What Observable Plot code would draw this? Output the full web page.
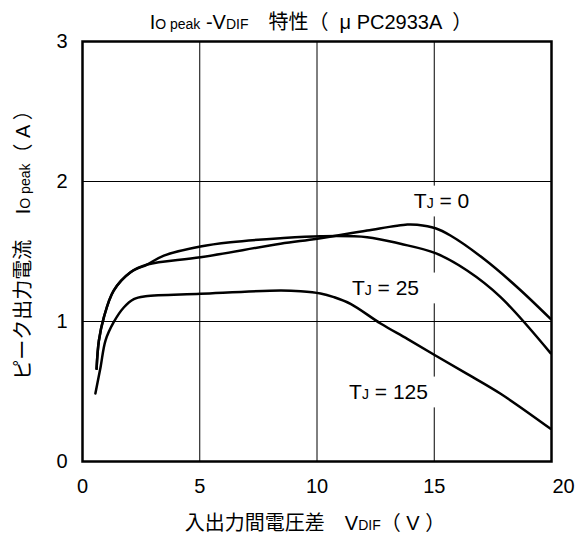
<!DOCTYPE html>
<html><head><meta charset="utf-8">
<script src="https://cdn.jsdelivr.net/npm/d3@7"></script>
<script src="https://cdn.jsdelivr.net/npm/@observablehq/plot@0.6"></script>
<style>body{margin:0;background:#fff}</style>
</head><body><div id="chart"></div>
<script>
// T_J = 0 curve
const t0X = [0.60, 0.70, 0.91, 1.33, 2.05, 2.76, 5.03, 8.44, 10.01, 12.14, 13.85, 14.27, 15.05, 15.69, 17.11, 18.54, 19.96];
const t0Y = [0.662, 0.864, 1.03, 1.221, 1.352, 1.407, 1.459, 1.555, 1.591, 1.65, 1.693, 1.691, 1.666, 1.614, 1.448, 1.245, 1.019];
// T_J = 25 curve
const t25X = [0.60, 0.70, 0.91, 1.33, 2.05, 2.76, 3.47, 5.03, 6.31, 8.44, 10.15, 12.14, 13.56, 15.05, 16.4, 17.83, 19.96];
const t25Y = [0.662, 0.864, 1.03, 1.221, 1.352, 1.407, 1.471, 1.536, 1.566, 1.595, 1.609, 1.602, 1.555, 1.488, 1.364, 1.174, 0.774];
// T_J = 125 curve
const t125X = [0.55, 0.77, 0.98, 1.33, 1.76, 2.19, 2.69, 5.03, 8.44, 9.30, 10.15, 10.72, 11.43, 12.71, 13.85, 15.05, 16.4, 17.83, 19.96];
const t125Y = [0.486, 0.674, 0.864, 0.995, 1.10, 1.16, 1.18, 1.198, 1.221, 1.216, 1.20, 1.174, 1.126, 0.986, 0.876, 0.757, 0.626, 0.484, 0.234];

const seriesNames = ["0", "25", "125"];
const labelX = [15.31, 12.92, 13.05];
const labelY = [1.857, 1.236, 0.493];

const xTicks = [0, 5, 10, 15];
const xLastTick = [20];
const yTicks = [0, 1, 2, 3];

const curves = [[t0X, t0Y], [t25X, t25Y], [t125X, t125Y]];
const points = curves.flatMap(([xs, ys], i) => xs.map((x, j) => ({s: seriesNames[i], x, y: ys[j]})));
const labels = seriesNames.map((s, i) => ({s, x: labelX[i], y: labelY[i]}));

const font = "'Liberation Sans', Arial, 'Noto Sans CJK JP', sans-serif";

const chart = Plot.plot({
  width: 578, height: 535,
  marginLeft: 82, marginRight: 27, marginTop: 41, marginBottom: 74,
  style: {fontFamily: font, fontSize: "20px", color: "#000", background: "#fff"},
  x: {domain: [0, 20]},
  y: {domain: [0, 3]},
  marks: [
    Plot.gridX([5, 10, 15], {stroke: "#000", strokeOpacity: 1, strokeWidth: 1}),
    Plot.gridY([1, 2], {stroke: "#000", strokeOpacity: 1, strokeWidth: 1}),
    Plot.rect(labels, {x1: d => d.x - 2.2, x2: d => d.x + 2.2, y1: d => d.y - 0.11, y2: d => d.y + 0.11, fill: "#fff"}),
    Plot.line(points, {x: "x", y: "y", z: "s", curve: "catmull-rom", stroke: "#000", strokeWidth: 2.5}),
    Plot.text(labels, {x: "x", y: "y", text: d => "T|J = " + d.s, fontSize: 21, fill: "#000"}),
    Plot.frame({stroke: "#000", strokeWidth: 2.5}),
    Plot.axisY(yTicks, {tickSize: 0, tickPadding: 15, label: null, fontSize: 20, tickFormat: d => String(d)}),
    Plot.axisX(xTicks, {tickSize: 0, tickPadding: 17, label: null, fontSize: 20, tickFormat: d => String(d)}),
    Plot.axisX(xLastTick, {tickSize: 0, tickPadding: 17, label: null, fontSize: 20, dx: 12, tickFormat: d => String(d)})
  ]
});
document.getElementById("chart").appendChild(chart);

const svg = d3.select(chart);
// subscripts in curve labels
svg.selectAll('g[aria-label="text"] text').each(function() {
  const t = this.textContent;
  if (!t.includes("|")) return;
  const [a, rest] = t.split("|");
  const sub = rest.slice(0, 1), tail = rest.slice(1);
  const el = d3.select(this);
  el.text(null);
  el.append("tspan").text(a);
  el.append("tspan").attr("font-size", 14).text(sub);
  el.append("tspan").text(tail);
});

function addText(parts, x, y, rotate) {
  const t = svg.append("text")
    .attr("text-anchor", "middle")
    .attr("font-family", font)
    .attr("font-size", 20)
    .attr("fill", "#000")
    .style("white-space", "pre");
  if (rotate) t.attr("transform", `translate(${x},${y}) rotate(-90)`);
  else t.attr("x", x).attr("y", y);
  for (const [s, size] of parts) t.append("tspan").attr("font-size", size).text(s);
  return t;
}
// title
addText([["I", 20], ["O peak", 14], [" -V", 20], ["DIF", 14], ["　特性（  μ PC2933A  ）", 20]], 311, 29);
// x label
addText([["入出力間電圧差　V", 20], ["DIF", 14], ["（ V ）", 20]], 315, 530);
// y label
addText([["ピーク出力電流　 I", 20], ["O peak", 14], ["（ A ）", 20]], 30, 240, true);
</script>
</body></html>
